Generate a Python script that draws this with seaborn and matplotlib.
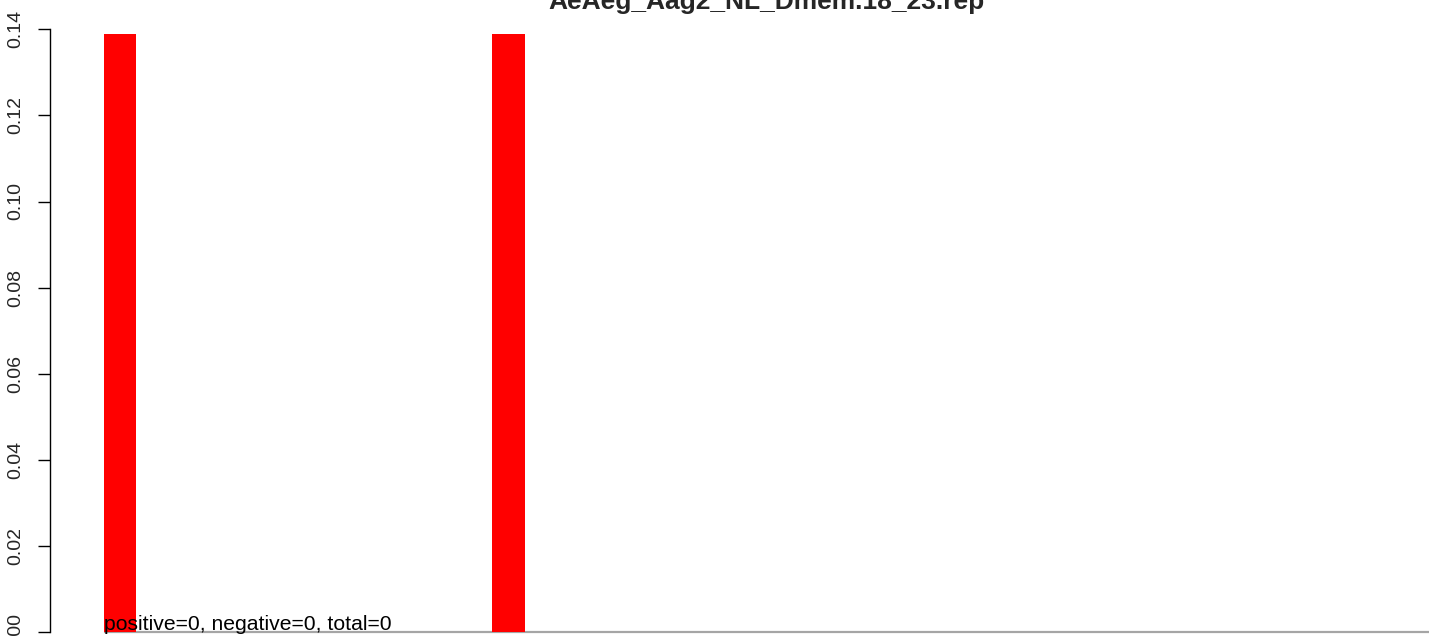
import matplotlib
matplotlib.use("Agg")
import matplotlib.pyplot as plt
import seaborn as sns
import pandas as pd

# ---- data ----
overlap = list(range(0, 34))
frequency = [0.0] * 34
frequency[0] = 0.139
frequency[10] = 0.139
title_text = "AeAeg_Aag2_NL_Dmem.18_23.rep"
note_text = "positive=0, negative=0, total=0"
y_ticks = [0.00, 0.02, 0.04, 0.06, 0.08, 0.10, 0.12, 0.14]

sns.set_style("white")
plt.rcParams['font.family'] = ['Liberation Sans', 'DejaVu Sans']

W, H = 1429, 636
fig = plt.figure(figsize=(W / 100, H / 100), dpi=100)
ax = fig.add_axes([50 / W, 4 / H, 1 - 50 / W, 1 - 4 / H])

df = pd.DataFrame({"overlap": [str(o) for o in overlap], "frequency": frequency})
sns.barplot(data=df, x="overlap", y="frequency", color="#FF0000", saturation=1,
            width=1 / 1.2, linewidth=0, ax=ax, order=[str(o) for o in overlap])

period = 38.83
x0 = 120.2
ax.set_xlim(-(x0 - 50) / period, (W - x0) / period)
ax.set_ylim(0, 0.14 * 632 / 602.7)

# baseline gray line
ax.hlines(0, -0.5 / 1.2, (W - x0) / period, color="#A5A5A5", lw=1.6, zorder=0.5,
          clip_on=False)

for s in ["top", "right", "bottom"]:
    ax.spines[s].set_visible(False)
ax.spines["left"].set_bounds(0, 0.14)
ax.spines["left"].set_linewidth(1.0)
ax.spines["left"].set_color("black")
ax.set_yticks(y_ticks)
ax.set_yticklabels([f"{v:.2f}" for v in y_ticks], rotation=90, va="center", fontsize=14)
ax.tick_params(axis="y", direction="out", length=8.5, width=1.0, pad=10, left=True, color="black")
ax.set_xticks([])
ax.set_xlabel("")
ax.set_ylabel("")

ax.text(-0.5 / 1.2, 0.0004, note_text, ha="left", va="baseline", fontsize=15.2, color="black")

fig.text(766 / W, 1 - 8.5 / H, title_text, ha="center", va="baseline",
         fontsize=19, fontweight="bold")

fig.savefig("out.png", dpi=100)
